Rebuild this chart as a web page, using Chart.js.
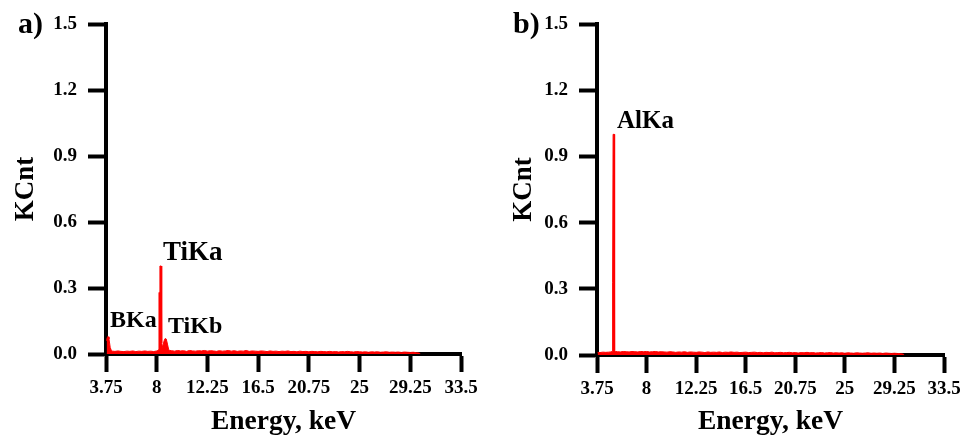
<!DOCTYPE html>
<html>
<head>
<meta charset="utf-8">
<script src="https://cdn.jsdelivr.net/npm/chart.js@4.4.1/dist/chart.umd.min.js"></script>
<style>
  body { margin: 0; background: #fff; }
  #wrap { position: relative; width: 968px; height: 438px; }
  .panel { position: absolute; top: 0; width: 484px; height: 438px; }
  .letter { position: absolute; font: bold 30px "Liberation Serif", serif; color: #000; }
</style>
</head>
<body>
<div id="wrap">
  <div class="panel" style="left:0"><canvas id="chartA" width="484" height="438"></canvas></div>
  <div class="panel" style="left:484px"><canvas id="chartB" width="484" height="438"></canvas></div>
  <div class="letter" style="left:18px; top:6px">a)</div>
  <div class="letter" style="left:513px; top:6px">b)</div>
</div>
<script>
// axis ticks
var xTicks = [3.75, 8, 12.25, 16.5, 20.75, 25, 29.25, 33.5];
var xTickLabels = ['3.75', '8', '12.25', '16.5', '20.75', '25', '29.25', '33.5'];
var yTicks = [0, 0.3, 0.6, 0.9, 1.2, 1.5];
var yTickLabels = ['0.0', '0.3', '0.6', '0.9', '1.2', '1.5'];

// panel a) spectrum
var energyA = [3.80, 3.85, 3.90, 3.95, 4.00, 4.05, 4.10, 4.20, 4.30, 4.50, 4.75, 5.00, 5.25, 5.50, 5.75,
  6.00, 6.25, 6.50, 6.75, 7.00, 7.25, 7.50, 7.75, 8.00, 8.10, 8.16, 8.19, 8.24, 8.27, 8.38, 8.42, 8.48,
  8.55, 8.62, 8.70, 8.80, 8.90, 9.00, 9.10,
  9.25, 9.50, 9.75, 10.00, 10.25, 10.50, 10.75, 11.00, 11.25, 11.50, 11.75, 12.00, 12.25, 12.50, 12.75,
  13.00, 13.25, 13.50, 13.75, 14.00, 14.25, 14.50, 14.75, 15.00, 15.25, 15.50, 15.75, 16.00, 16.25, 16.50,
  16.75, 17.00, 17.25, 17.50, 17.75, 18.00, 18.25, 18.50, 18.75, 19.00, 19.25, 19.50, 19.75, 20.00, 20.25,
  20.50, 20.75, 21.00, 21.25, 21.50, 21.75, 22.00, 22.25, 22.50, 22.75, 23.00, 23.25, 23.50, 23.75, 24.00,
  24.25, 24.50, 24.75, 25.00, 25.25, 25.50, 25.75, 26.00, 26.25, 26.50, 26.75, 27.00, 27.25, 27.50, 27.75,
  28.00, 28.25, 28.50, 28.75, 29.00, 29.25, 29.50, 29.75, 30.00, 30.10];
var countsA = [0.060, 0.075, 0.080, 0.078, 0.068, 0.050, 0.030, 0.016, 0.013, 0.012, 0.014, 0.012, 0.011, 0.013, 0.012,
  0.014, 0.011, 0.013, 0.012, 0.014, 0.012, 0.013, 0.011, 0.014, 0.016, 0.020, 0.280, 0.280, 0.400, 0.400, 0.050, 0.030,
  0.045, 0.060, 0.070, 0.068, 0.045, 0.020, 0.016,
  0.015, 0.013, 0.016, 0.014, 0.015, 0.012, 0.016, 0.014, 0.013, 0.015, 0.014, 0.016, 0.013, 0.015, 0.014,
  0.012, 0.015, 0.013, 0.014, 0.016, 0.013, 0.015, 0.012, 0.014, 0.013, 0.016, 0.012, 0.014, 0.013, 0.012,
  0.014, 0.013, 0.011, 0.014, 0.012, 0.013, 0.011, 0.013, 0.012, 0.014, 0.011, 0.012, 0.010, 0.013, 0.011,
  0.012, 0.010, 0.012, 0.011, 0.010, 0.012, 0.011, 0.010, 0.012, 0.010, 0.011, 0.009, 0.011, 0.010, 0.012,
  0.010, 0.009, 0.011, 0.010, 0.009, 0.010, 0.008, 0.010, 0.009, 0.010, 0.008, 0.009, 0.010, 0.008, 0.009,
  0.008, 0.009, 0.007, 0.009, 0.008, 0.007, 0.008, 0.006, 0.004, 0.000];

// panel b) spectrum
var energyB = [3.80, 4.00, 4.25, 4.50, 4.75, 4.95, 5.04, 5.07, 5.11, 5.13, 5.23, 5.26, 5.35, 5.50, 5.75,
  6.00, 6.25, 6.50, 6.75, 7.00, 7.25, 7.50, 7.75, 8.00, 8.25, 8.50, 8.75, 9.00,
  9.25, 9.50, 9.75, 10.00, 10.25, 10.50, 10.75, 11.00, 11.25, 11.50, 11.75, 12.00, 12.25, 12.50, 12.75,
  13.00, 13.25, 13.50, 13.75, 14.00, 14.25, 14.50, 14.75, 15.00, 15.25, 15.50, 15.75, 16.00, 16.25, 16.50,
  16.75, 17.00, 17.25, 17.50, 17.75, 18.00, 18.25, 18.50, 18.75, 19.00, 19.25, 19.50, 19.75, 20.00, 20.25,
  20.50, 20.75, 21.00, 21.25, 21.50, 21.75, 22.00, 22.25, 22.50, 22.75, 23.00, 23.25, 23.50, 23.75, 24.00,
  24.25, 24.50, 24.75, 25.00, 25.25, 25.50, 25.75, 26.00, 26.25, 26.50, 26.75, 27.00, 27.25, 27.50, 27.75,
  28.00, 28.25, 28.50, 28.75, 29.00, 29.25, 29.50, 29.75, 30.00, 30.10];
var countsB = [0.012, 0.011, 0.013, 0.012, 0.013, 0.014, 0.016, 0.330, 0.330, 1.000, 1.000, 0.020, 0.016, 0.015, 0.014,
  0.016, 0.015, 0.014, 0.016, 0.015, 0.014, 0.016, 0.015, 0.016, 0.014, 0.015, 0.016, 0.014,
  0.015, 0.014, 0.013, 0.015, 0.014, 0.012, 0.014, 0.013, 0.015, 0.012, 0.014, 0.013, 0.012, 0.014, 0.013,
  0.011, 0.014, 0.012, 0.013, 0.012, 0.014, 0.011, 0.013, 0.012, 0.014, 0.012, 0.013, 0.011, 0.012, 0.013,
  0.011, 0.012, 0.013, 0.011, 0.012, 0.010, 0.012, 0.011, 0.013, 0.010, 0.011, 0.012, 0.010, 0.011, 0.012,
  0.010, 0.011, 0.009, 0.011, 0.010, 0.012, 0.010, 0.011, 0.009, 0.010, 0.011, 0.009, 0.010, 0.011, 0.009,
  0.010, 0.009, 0.010, 0.008, 0.010, 0.009, 0.008, 0.010, 0.009, 0.008, 0.009, 0.010, 0.008, 0.009, 0.008,
  0.009, 0.007, 0.009, 0.008, 0.007, 0.008, 0.007, 0.006, 0.004, 0.000];

// peak labels (data coordinates of the text's left/baseline)
var peakNamesA = ['BKa', 'TiKa', 'TiKb'];
var peakXA = [4.09, 8.53, 8.95];
var peakYA = [0.123, 0.427, 0.095];
var peakSizeA = [24, 27, 24];
var peakNamesB = ['AlKa'];
var peakXB = [5.47];
var peakYB = [1.03];
var peakSizeB = [25];

var serif = '"Liberation Serif", "Times New Roman", serif';

var peakLabels = {
  id: 'peakLabels',
  afterDatasetsDraw: function (chart, args, opts) {
    var ctx = chart.ctx;
    ctx.save();
    ctx.fillStyle = '#000';
    ctx.textAlign = 'left';
    ctx.textBaseline = 'alphabetic';
    for (var i = 0; i < opts.names.length; i++) {
      ctx.font = 'bold ' + opts.sizes[i] + 'px ' + serif;
      ctx.fillText(opts.names[i],
        chart.scales.x.getPixelForValue(opts.xs[i]),
        chart.scales.y.getPixelForValue(opts.ys[i]));
    }
    ctx.restore();
  }
};

function makeChart(id, energy, counts, names, xs, ys, sizes, axisW, bottomH, rightPad, titlePad) {
  var pts = [];
  for (var i = 0; i < energy.length; i++) pts.push({ x: energy[i], y: counts[i] });
  var ctx = document.getElementById(id).getContext('2d');
  return new Chart(ctx, {
    type: 'line',
    data: {
      datasets: [{
        data: pts,
        borderColor: '#ff0000',
        backgroundColor: '#ff0000',
        borderWidth: 1,
        pointRadius: 0,
        tension: 0,
        fill: 'origin'
      }]
    },
    plugins: [peakLabels],
    options: {
      responsive: false,
      animation: false,
      layout: { padding: { left: 0, top: 24, right: rightPad, bottom: 0 } },
      plugins: {
        legend: { display: false },
        tooltip: { enabled: false },
        peakLabels: { names: names, xs: xs, ys: ys, sizes: sizes }
      },
      scales: {
        x: {
          type: 'linear',
          min: 3.75,
          max: 33.5,
          afterBuildTicks: function (s) { s.ticks = xTicks.map(function (v) { return { value: v }; }); },
          afterFit: function (s) { s.height = bottomH; },
          ticks: {
            autoSkip: false,
            maxRotation: 0,
            padding: 5,
            color: '#000',
            font: { family: serif, size: 19, weight: 'bold' },
            callback: function (v, i) { return xTickLabels[i]; }
          },
          grid: { drawOnChartArea: false, tickLength: 18, tickWidth: 4, tickColor: '#000' },
          border: { display: true, width: 4, color: '#000' },
          title: {
            display: true,
            text: 'Energy, keV',
            color: '#000',
            font: { family: serif, size: 27.5, weight: 'bold' },
            padding: { top: 0, bottom: 0 }
          }
        },
        y: {
          min: 0,
          max: 1.5,
          afterBuildTicks: function (s) { s.ticks = yTicks.map(function (v) { return { value: v }; }); },
          afterFit: function (s) { s.width = axisW; },
          ticks: {
            padding: 11,
            color: '#000',
            font: { family: serif, size: 19, weight: 'bold' },
            callback: function (v, i) { return yTickLabels[i]; }
          },
          grid: { drawOnChartArea: false, tickLength: 18, tickWidth: 4, tickColor: '#000' },
          border: { display: true, width: 4, color: '#000' },
          title: {
            display: true,
            text: 'KCnt',
            color: '#000',
            font: { family: serif, size: 27, weight: 'bold' },
            padding: { top: titlePad, bottom: 0 }
          }
        }
      }
    }
  });
}

makeChart('chartA', energyA, countsA, peakNamesA, peakXA, peakYA, peakSizeA, 106, 84, 23, 10);
makeChart('chartB', energyB, countsB, peakNamesB, peakXB, peakYB, peakSizeB, 113, 83, 24, 24);
</script>
</body>
</html>
